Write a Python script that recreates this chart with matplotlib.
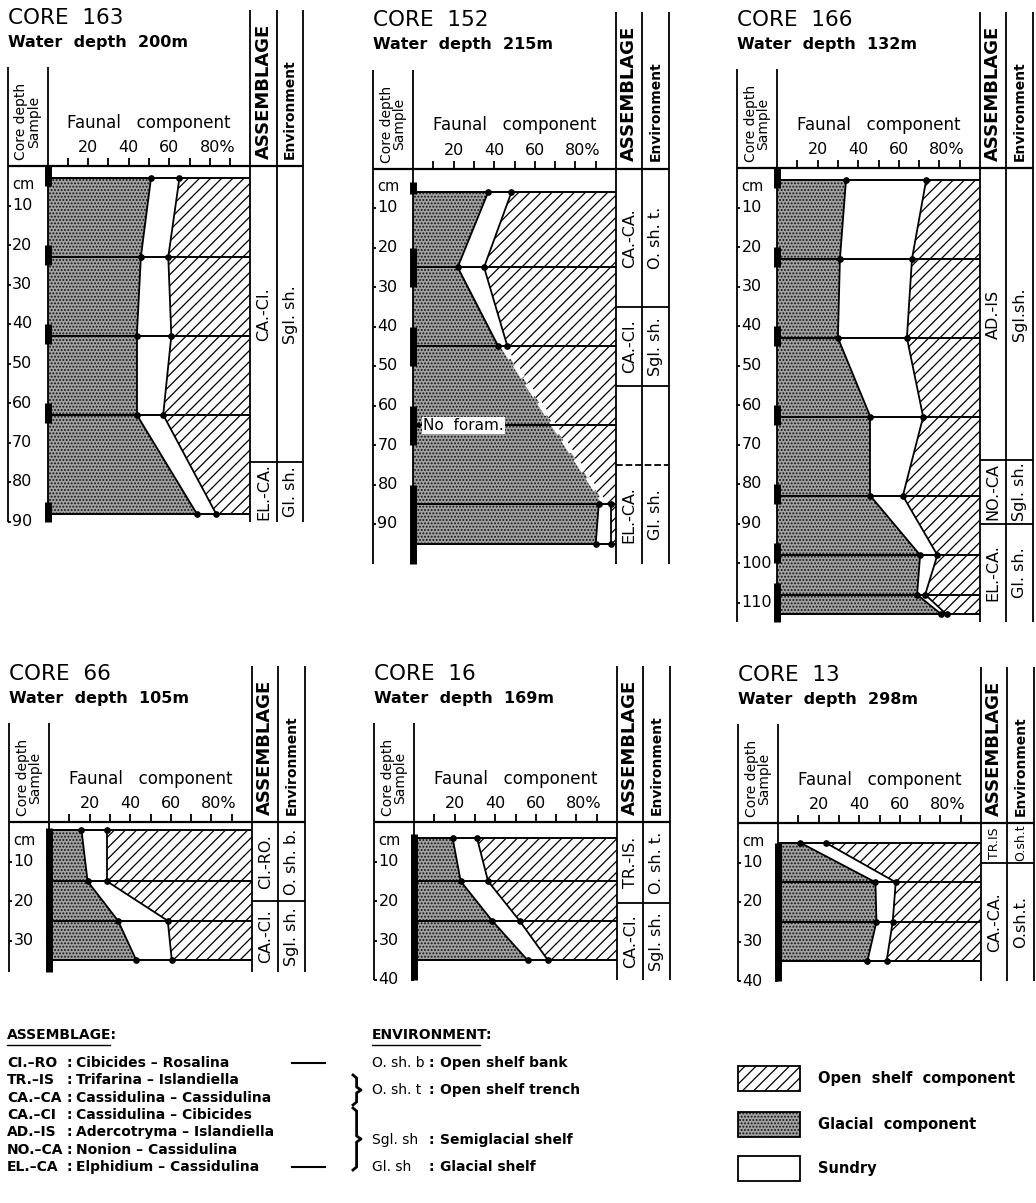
import numpy as np
import matplotlib.pyplot as plt
from matplotlib.patches import Rectangle

plt.rcParams['font.family'] = 'DejaVu Sans'
plt.rcParams['hatch.linewidth'] = 0.9

W, H = 1036, 1203
PX_PCT = 2.03   # pixels per 1 % of faunal component
PX_CM = 3.95    # pixels per 1 cm of core depth
XMIN, ASM_R, ENV_R = -19.7, 113.0, 126.0

# ---------------- data ----------------
# depth (cm) of each sample, glacial %, open shelf % (sundry = rest)
c163_depth = [3, 23, 43, 63, 88]
c163_glacial = [51, 46, 44, 44, 73.5]
c163_open = [35, 40.5, 39, 43, 17]
c163_samples = [(0, 5), (20, 25), (40, 45), (60, 65), (85, 90)]
c163_zones = [0, 75, 90]
c163_assem = ['CA.-CI.', 'EL.-CA.']
c163_env = ['Sgl. sh.', 'Gl. sh.']

c152_depth = [6, 25, 45, 85, 95]
c152_glacial = [37, 22, 42, 91.5, 90]
c152_open = [51.5, 65, 53.5, 2.5, 2.5]
c152_samples = [(3.5, 6.5), (20, 30), (40, 50), (60, 70), (80, 100)]
c152_zones = [0, 35, 55, 75, 100]
c152_assem = ['CA.-CA.', 'CA.-CI.', '', 'EL.-CA.']
c152_env = ['O. sh. t.', 'Sgl. sh.', '', 'Gl. sh.']

c166_depth = [3, 23, 43, 63, 83, 98, 108, 113]
c166_glacial = [34, 31, 30, 46, 46, 70.5, 69, 81]
c166_open = [26.5, 33.5, 36, 28, 38, 21, 27, 16.5]
c166_samples = [(0, 5), (20, 25), (40, 45), (60, 65), (80, 85), (95, 100), (105, 115)]
c166_zones = [0, 74, 90, 115]
c166_assem = ['AD.-IS', 'NO.-CA', 'EL.-CA.']
c166_env = ['Sgl.sh.', 'Sgl. sh.', 'Gl. sh.']

c66_depth = [2, 15, 25, 35]
c66_glacial = [16, 19, 34, 43]
c66_open = [71.5, 71.5, 41.5, 39.5]
c66_samples = [(1.5, 38)]
c66_zones = [0, 20, 38]
c66_assem = ['CI.-RO.', 'CA.-CI.']
c66_env = ['O. sh. b.', 'Sgl. sh.']

c16_depth = [4, 15, 25, 35]
c16_glacial = [19, 23, 38.5, 56]
c16_open = [69, 63.5, 48, 34]
c16_samples = [(3, 40)]
c16_zones = [0, 20.5, 40]
c16_assem = ['TR.-IS.', 'CA.-CI.']
c16_env = ['O. sh. t.', 'Sgl. sh.']

c13_depth = [5, 15, 25, 35]
c13_glacial = [11, 48, 48.5, 44]
c13_open = [76.5, 42, 43.5, 46.5]
c13_samples = [(5, 40)]
c13_zones = [0, 10, 40]
c13_assem = ['TR.IS', 'CA.-CA.']
c13_env = ['O.sh.t', 'O.sh.t.']

pct_ticks = [20, 40, 60, 80]
pct_labels = ['20', '40', '60', '80%']

assem_codes = ['CI.–RO', 'TR.–IS', 'CA.–CA', 'CA.–CI', 'AD.–IS', 'NO.–CA', 'EL.–CA']
assem_names = ['Cibicides – Rosalina', 'Trifarina – Islandiella', 'Cassidulina – Cassidulina',
               'Cassidulina – Cibicides', 'Adercotryma – Islandiella', 'Nonion – Cassidulina',
               'Elphidium – Cassidulina']
env_codes = ['O. sh. b', 'O. sh. t', 'Sgl. sh', 'Gl. sh']
env_names = ['Open shelf bank', 'Open shelf trench', 'Semiglacial shelf', 'Glacial shelf']
key_labels = ['Open  shelf  component', 'Glacial  component', 'Sundry']

GLAC = dict(facecolor='#a2a2a2', edgecolor='#111111', hatch='.....', linewidth=0)
OPEN = dict(facecolor='white', edgecolor='black', hatch='///', linewidth=0)

fig = plt.figure(figsize=(W / 100, H / 100), dpi=100)


def draw_core(x0, y0, dmax, tmax, title, water, depth, glac, opn, samples,
              zones, assem, env, gap=None, dashed=(), twin_ticks=False):
    ax = fig.add_axes([(x0 + XMIN * PX_PCT) / W, 1 - (y0 + dmax * PX_CM) / H,
                       (ENV_R - XMIN) * PX_PCT / W, dmax * PX_CM / H])
    ax.set_xlim(XMIN, ENV_R)
    ax.set_ylim(dmax, 0)
    ax.axis('off')
    k = dict(color='k', clip_on=False)

    d = np.array(depth, float)
    g = np.array(glac, float)
    b = 100 - np.array(opn, float)
    for i in range(len(d) - 1):
        ds = d[i:i + 2]
        if i == gap:
            m = (g[i:i + 2] + b[i:i + 2]) / 2
            lo, hi = m, m
        else:
            lo, hi = g[i:i + 2], b[i:i + 2]
        ax.fill_betweenx(ds, 0, lo, zorder=1, **GLAC)
        ax.fill_betweenx(ds, hi, 100, zorder=1, **OPEN)
        if i == gap:
            ax.plot(m, ds, color='white', lw=3.5, dashes=(3, 1.6), zorder=3)
        else:
            ax.plot(lo, ds, lw=1.3, zorder=3, **k)
            ax.plot(hi, ds, lw=1.3, zorder=3, **k)
    ax.hlines(d, 0, 100, colors='k', lw=1.4, zorder=3)
    ax.plot(g, d, 'o', ms=3.8, color='k', zorder=4)
    ax.plot(b, d, 'o', ms=3.8, color='k', zorder=4)

    # frame of the panel
    ax.vlines([XMIN, 0], -25, dmax, colors='k', lw=1.3, clip_on=False)
    ax.vlines([100, ASM_R, ENV_R], -39.5, dmax, colors='k', lw=1.3, clip_on=False)
    ax.hlines(0, XMIN, ENV_R, colors='k', lw=1.6, clip_on=False)
    ax.vlines(range(10, 100, 10), -2, 0, colors='k', lw=1.3, clip_on=False)
    for v, s in zip(pct_ticks, pct_labels):
        if s.endswith('%'):
            ax.text(v - 5, -4.6, s, ha='left', va='center', fontsize=11.5)
        else:
            ax.text(v, -4.6, s, ha='center', va='center', fontsize=11.5)
    ax.text(50, -11, 'Faunal   component', ha='center', va='center', fontsize=12)
    ax.text(XMIN, -37.5, title, ha='left', va='center', fontsize=15.5)
    ax.text(XMIN, -31.3, water, ha='left', va='center', fontsize=11.5, fontweight='bold')
    ax.text(XMIN / 2, -1.5, 'Core depth\nSample', rotation=90, ha='center', va='bottom',
            fontsize=10, linespacing=0.9)
    ax.text((100 + ASM_R) / 2, -1.8, 'ASSEMBLAGE', rotation=90, ha='center', va='bottom',
            fontsize=13, fontweight='bold')
    ax.text((ASM_R + ENV_R) / 2, -1.8, 'Environment', rotation=90, ha='center', va='bottom',
            fontsize=10, fontweight='bold')

    # depth scale and sampled intervals
    dt = list(range(10, tmax + 1, 10))
    ax.hlines(dt, XMIN, XMIN + 1.5, colors='k', lw=1.3, clip_on=False)
    if twin_ticks:
        ax.hlines(dt, -1.5, 0, colors='k', lw=1.3, clip_on=False)
    for t in dt:
        ax.text(XMIN + 2.2, t, str(t), ha='left', va='center', fontsize=11.5)
    ax.text(XMIN + 2.2, 4.6, 'cm', ha='left', va='center', fontsize=10.5)
    for a, bb in samples:
        ax.plot([0, 0], [a, bb], lw=5, solid_capstyle='butt', zorder=5, **k)

    # assemblage / environment zones
    for z in zones[1:-1]:
        ax.hlines(z, 100, ENV_R, colors='k', lw=1.3, clip_on=False,
                  linestyles='--' if z in dashed else '-')
    for z1, z2, a_lab, e_lab in zip(zones[:-1], zones[1:], assem, env):
        fs = 11.5 if z2 - z1 > 12 else 9
        ax.text((100 + ASM_R) / 2, (z1 + z2) / 2, a_lab, rotation=90, ha='center',
                va='center', fontsize=fs)
        ax.text((ASM_R + ENV_R) / 2, (z1 + z2) / 2, e_lab, rotation=90, ha='center',
                va='center', fontsize=fs)
    return ax


draw_core(47.5, 166, 90, 90, 'CORE  163', 'Water  depth  200m', c163_depth, c163_glacial,
          c163_open, c163_samples, c163_zones, c163_assem, c163_env)
ax152 = draw_core(413, 168.5, 100, 90, 'CORE  152', 'Water  depth  215m', c152_depth,
                  c152_glacial, c152_open, c152_samples, c152_zones, c152_assem, c152_env,
                  gap=2, dashed=(75,))
ax152.hlines(65, 0, 100, colors='k', lw=1.4, zorder=3)
ax152.annotate('No  foram.', xy=(0.3, 65), xytext=(5, 65), ha='left', va='center',
               fontsize=11, zorder=6, bbox=dict(fc='white', ec='none', pad=0.6),
               arrowprops=dict(arrowstyle='-|>', color='k', lw=1, shrinkA=0, shrinkB=0,
                               mutation_scale=8))
draw_core(777, 168, 115, 110, 'CORE  166', 'Water  depth  132m', c166_depth, c166_glacial,
          c166_open, c166_samples, c166_zones, c166_assem, c166_env)
draw_core(49, 822, 38, 30, 'CORE  66', 'Water  depth  105m', c66_depth, c66_glacial,
          c66_open, c66_samples, c66_zones, c66_assem, c66_env, twin_ticks=True)
draw_core(414, 822, 40, 40, 'CORE  16', 'Water  depth  169m', c16_depth, c16_glacial,
          c16_open, c16_samples, c16_zones, c16_assem, c16_env, twin_ticks=True)
draw_core(778, 823, 40, 40, 'CORE  13', 'Water  depth  298m', c13_depth, c13_glacial,
          c13_open, c13_samples, c13_zones, c13_assem, c13_env, twin_ticks=True)

# ---------------- key at the bottom ----------------
lg = fig.add_axes([0, 0, 1, 1], facecolor='none', zorder=-1)
lg.set_xlim(0, W)
lg.set_ylim(H, 0)
lg.axis('off')
fs = 10
lg.text(7, 1035, 'ASSEMBLAGE:', fontsize=fs, va='center', fontweight='bold')
lg.plot([7, 110], [1045, 1045], 'k', lw=1)
rows = [1063, 1080.5, 1098, 1115, 1132, 1149.5, 1167]
for y, c, n in zip(rows, assem_codes, assem_names):
    lg.text(7, y, c, fontsize=fs, va='center', fontweight='bold')
    lg.text(66, y, ':', fontsize=fs, va='center', fontweight='bold')
    lg.text(76, y, n, fontsize=fs, va='center', fontweight='bold')
lg.plot([292, 325], [rows[0], rows[0]], 'k', lw=1.5)
lg.plot([292, 325], [rows[-1], rows[-1]], 'k', lw=1.5)


def brace(x, y1, y2, w=8):
    ym = (y1 + y2) / 2
    lg.plot([x, x + w * 0.45, x + w * 0.45, x + w, x + w * 0.45, x + w * 0.45, x],
            [y1, y1 + 3, ym - 3, ym, ym + 3, y2 - 3, y2], 'k', lw=2)


brace(353, 1075, 1105)
brace(353, 1108, 1170)

lg.text(372, 1035, 'ENVIRONMENT:', fontsize=fs, va='center', fontweight='bold')
lg.plot([372, 480], [1045, 1045], 'k', lw=1)
env_rows = [1063, 1090, 1140, 1167]
for y, c, n in zip(env_rows, env_codes, env_names):
    lg.text(372, y, c, fontsize=fs, va='center')
    lg.text(429, y, ':', fontsize=fs, va='center', fontweight='bold')
    lg.text(440, y, n, fontsize=fs, va='center', fontweight='bold')

key_rows = [1078, 1124, 1168]
key_style = [OPEN, GLAC, dict(facecolor='white', edgecolor='black', linewidth=0)]
for y, lab, st in zip(key_rows, key_labels, key_style):
    lg.add_patch(Rectangle((738, y - 12.5), 62, 25, **st))
    lg.add_patch(Rectangle((738, y - 12.5), 62, 25, fill=False, ec='k', lw=1.3))
    lg.text(818, y, lab, fontsize=10.5, va='center', fontweight='bold')

fig.savefig('out.png', dpi=100)
